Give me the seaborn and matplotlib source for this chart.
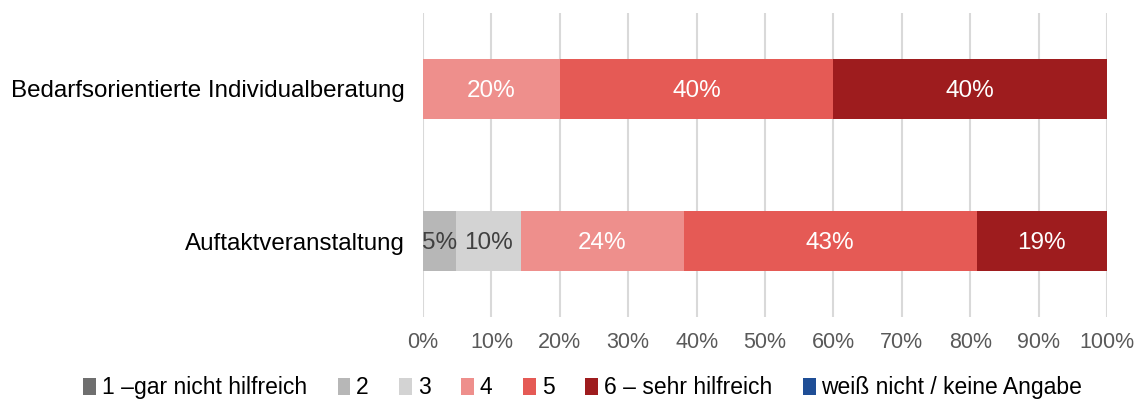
import seaborn as sns
import matplotlib.pyplot as plt
from matplotlib.patches import Patch
from matplotlib.ticker import PercentFormatter
import pandas as pd
import numpy as np

## data (shares in percent)
categories = ["Bedarfsorientierte Individualberatung", "Auftaktveranstaltung"]
levels = ["1 \u2013gar nicht hilfreich", "2", "3", "4", "5", "6 \u2013 sehr hilfreich",
          "weiß nicht / keine Angabe"]
val_1 = [0.0, 0.0]
val_2 = [0.0, 4.76]
val_3 = [0.0, 9.52]
val_4 = [20.0, 23.81]
val_5 = [40.0, 42.86]
val_6 = [40.0, 19.05]
val_na = [0.0, 0.0]

colors = ["#6f6f6f", "#b7b7b7", "#d3d3d3", "#ee8f8c", "#e55a55", "#9e1c1e", "#1f4e96"]
label_colors = ["#404040", "#404040", "#404040", "white", "white", "white", "white"]

df = pd.DataFrame({"category": categories})
series = [val_1, val_2, val_3, val_4, val_5, val_6, val_na]
for lev, vals in zip(levels, series):
    df[lev] = vals
cum = df[levels].cumsum(axis=1)

sns.set_theme(style="white")
plt.rcParams['font.family'] = ['Liberation Sans', 'DejaVu Sans']

fig = plt.figure(figsize=(11.38, 4.05), dpi=100)
ax = fig.add_axes([0.3717, 0.217, 0.6011, 0.751])

## draw cumulative bars from the last level back to the first
for i in range(len(levels) - 1, -1, -1):
    sns.barplot(x=cum[levels[i]], y=df["category"], color=colors[i], orient="h",
                width=0.4, ax=ax, saturation=1, edgecolor="none")

## segment labels
for r in range(len(categories)):
    left = 0.0
    for i, lev in enumerate(levels):
        v = df.loc[r, lev]
        if v > 0:
            ax.text(left + v / 2, r + 0.015, f"{v:.0f}%", ha="center", va="center",
                    fontsize=17.5, color=label_colors[i])
        left += v

ax.set_xlim(0, 100)
ax.set_ylim(1.5, -0.5)
ax.set_xticks(np.arange(0, 101, 10))
ax.xaxis.set_major_formatter(PercentFormatter(decimals=0))
ax.grid(axis="x", color="#d9d9d9", linewidth=1.5)
ax.set_axisbelow(True)
sns.despine(ax=ax, left=True, bottom=True)
ax.set_xlabel("")
ax.set_ylabel("")
ax.tick_params(axis="x", labelsize=15.5, labelcolor="#595959", length=0, pad=11)
ax.tick_params(axis="y", labelsize=17.4, labelcolor="#000000", length=0, pad=13)

handles = [Patch(facecolor=c, edgecolor="none") for c in colors]
fig.legend(handles, levels, loc="center", bbox_to_anchor=(0.512, 0.042), ncol=7,
           frameon=False, fontsize=16.5, handlelength=0.55, handleheight=0.8,
           handletextpad=0.25, columnspacing=1.35, labelcolor="#000000")

fig.savefig("out.png", dpi=100)
